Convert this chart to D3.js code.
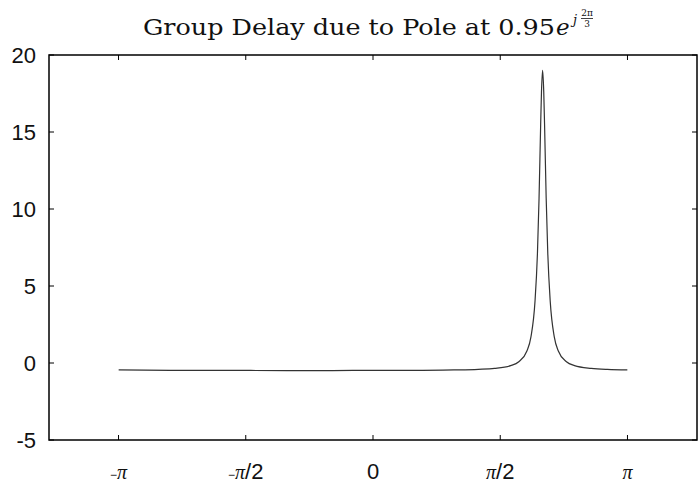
<!DOCTYPE html>
<html>
<head>
<meta charset="utf-8">
<script src="https://cdn.jsdelivr.net/npm/d3@7"></script>
<style>
  body { margin: 0; background: #fff; }
  svg { display: block; }
</style>
</head>
<body>
<svg id="chart"></svg>
<script>
// frequency (rad) and group delay (samples)
const omega = [-3.14, -2.5, -2.0, -1.05, -0.5, 0, 0.5, 1.0, 1.3, 1.5, 1.7, 1.8, 1.9, 1.95, 2.0, 2.03, 2.05,
    2.07, 2.08, 2.094, 2.108, 2.118, 2.138, 2.158, 2.188, 2.238, 2.288, 2.388, 2.488, 2.694, 2.894, 3.14];
const delay = [-0.45, -0.48, -0.48, -0.49, -0.49, -0.48, -0.48, -0.45, -0.41, -0.35, -0.17, 0.08, 0.78, 1.7, 4.0, 7.1, 10.7,
    15.5, 17.6, 19.0, 17.6, 15.5, 10.7, 7.1, 4.0, 1.7, 0.78, 0.08, -0.17, -0.35, -0.42, -0.45];

const yTicks = [-5, 0, 5, 10, 15, 20];
const xTicks = [-Math.PI, -Math.PI / 2, 0, Math.PI / 2, Math.PI];
const xTickLabels = [["−", "π", ""], ["−", "π", "/2"], ["", "", "0"], ["", "π", "/2"], ["", "π", ""]];

const config = {
    width: 699,
    height: 485,
    margin: {top: 55, right: 2, bottom: 45, left: 49}
};

const svg = d3.select("#chart")
    .attr("width", config.width)
    .attr("height", config.height);

const innerW = config.width - config.margin.left - config.margin.right;
const innerH = config.height - config.margin.top - config.margin.bottom;

const x = d3.scaleLinear().domain([-4, 4]).range([config.margin.left, config.margin.left + innerW]);
const y = d3.scaleLinear().domain([-5, 20]).range([config.margin.top + innerH, config.margin.top]);

const data = omega.map((w, i) => ({w: w, d: delay[i]}));

// curve
svg.append("path")
    .datum(data)
    .attr("fill", "none")
    .attr("stroke", "#333")
    .attr("stroke-width", 1.2)
    .attr("d", d3.line()
        .x(d => x(d.w))
        .y(d => y(d.d))
        .curve(d3.curveMonotoneX));

// box
svg.append("rect")
    .attr("x", x(-4))
    .attr("y", y(20))
    .attr("width", x(4) - x(-4))
    .attr("height", y(-5) - y(20))
    .attr("fill", "none")
    .attr("stroke", "#000")
    .attr("stroke-width", 1.5);

const tickLen = 5;

// inward ticks on all four sides
const ticks = svg.append("g").attr("stroke", "#000").attr("stroke-width", 1);
xTicks.forEach(t => {
    ticks.append("line").attr("x1", x(t)).attr("x2", x(t)).attr("y1", y(-5)).attr("y2", y(-5) - tickLen);
    ticks.append("line").attr("x1", x(t)).attr("x2", x(t)).attr("y1", y(20)).attr("y2", y(20) + tickLen);
});
yTicks.forEach(t => {
    ticks.append("line").attr("x1", x(-4)).attr("x2", x(-4) + tickLen).attr("y1", y(t)).attr("y2", y(t));
    ticks.append("line").attr("x1", x(4)).attr("x2", x(4) - tickLen).attr("y1", y(t)).attr("y2", y(t));
});

// y labels
svg.append("g")
    .selectAll("text")
    .data(yTicks)
    .join("text")
    .attr("x", 36)
    .attr("y", d => y(d) + 8)
    .attr("text-anchor", "end")
    .attr("font-family", "Liberation Sans, Arial, sans-serif")
    .attr("font-size", 22)
    .attr("fill", "#111")
    .text(d => d === -5 ? "-5" : d);

// x labels
const xl = svg.append("g")
    .selectAll("text")
    .data(xTicks)
    .join("text")
    .attr("x", d => x(d))
    .attr("y", 479)
    .attr("text-anchor", "middle")
    .attr("font-family", "Liberation Sans, Arial, sans-serif")
    .attr("font-size", 22)
    .attr("fill", "#111");

xl.each(function(d, i) {
    const parts = xTickLabels[i];
    const t = d3.select(this);
    if (parts[0]) t.append("tspan").attr("font-size", 12).text(parts[0]);
    if (parts[1]) t.append("tspan")
        .attr("font-family", "Liberation Serif, serif")
        .attr("font-style", "italic")
        .attr("font-size", 20)
        .text(parts[1]);
    if (parts[2]) t.append("tspan").text(parts[2]);
});

// title
const titleFont = "DejaVu Serif, serif";
svg.append("text")
    .attr("x", 143)
    .attr("y", 35)
    .attr("font-family", titleFont)
    .attr("font-size", 23)
    .attr("textLength", 412)
    .attr("lengthAdjust", "spacingAndGlyphs")
    .attr("fill", "#111")
    .text("Group Delay due to Pole at 0.95");
svg.append("text")
    .attr("x", 556)
    .attr("y", 35)
    .attr("font-family", titleFont)
    .attr("font-style", "italic")
    .attr("font-size", 23)
    .attr("fill", "#111")
    .text("e");
svg.append("text")
    .attr("x", 573)
    .attr("y", 24)
    .attr("font-family", titleFont)
    .attr("font-style", "italic")
    .attr("font-size", 13)
    .attr("fill", "#111")
    .text("j");

const fx = 587;
svg.append("text")
    .attr("x", fx).attr("y", 16)
    .attr("text-anchor", "middle")
    .attr("font-family", titleFont)
    .attr("font-size", 9)
    .attr("fill", "#111")
    .text("2π");
svg.append("line")
    .attr("x1", fx - 6).attr("x2", fx + 6)
    .attr("y1", 18.5).attr("y2", 18.5)
    .attr("stroke", "#111").attr("stroke-width", 0.8);
svg.append("text")
    .attr("x", fx).attr("y", 27)
    .attr("text-anchor", "middle")
    .attr("font-family", titleFont)
    .attr("font-size", 9)
    .attr("fill", "#111")
    .text("3");
</script>
</body>
</html>
